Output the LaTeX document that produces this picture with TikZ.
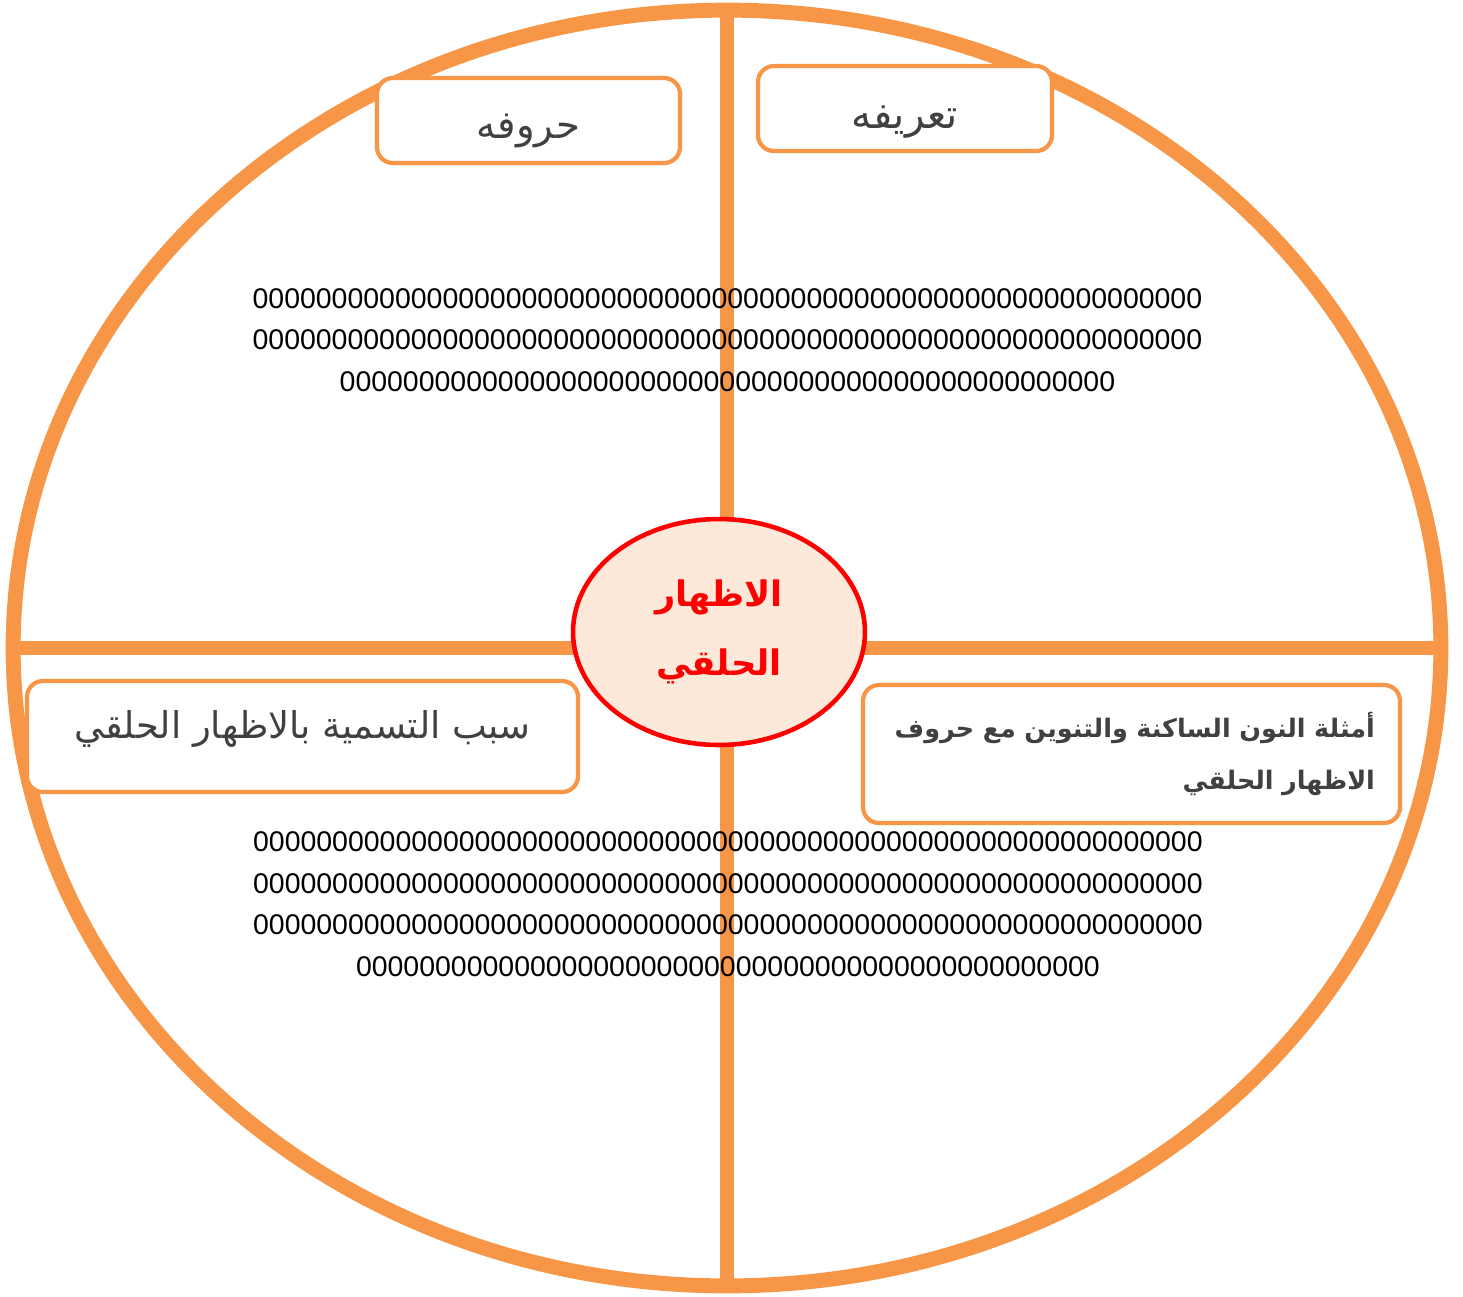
\documentclass[tikz,border=0pt]{standalone}
\usepackage{fontspec}
\setmainfont{Liberation Sans}
\newfontfamily\arabicfont[Script=Arabic]{DejaVu Sans}
\TeXXeTstate=1
\usetikzlibrary{shapes.geometric}
\definecolor{orangeline}{HTML}{F79646}
\definecolor{peach}{HTML}{FCE9DA}
\definecolor{textgray}{HTML}{404040}
\newcommand{\zerorow}[1]{\foreach \n in {1,...,#1}{0}}
\begin{document}
\begin{tikzpicture}[x=0.02cm,y=-0.02cm,line join=round,
	labelbox/.style={draw=orangeline,line width=2.4pt,rounded corners=9pt,fill=white,inner sep=0pt,text=textgray},
	zerotext/.style={font=\fontsize{16.2}{23.6}\selectfont,align=center,inner sep=0pt}]
	\useasboundingbox (0,0) rectangle (1463,1296);
	\coordinate (O) at (727,648);
	\coordinate (T) at (727,10);
	\coordinate (B) at (727,1286);
	\coordinate (L) at (13,648);
	\coordinate (R) at (1441,648);
	\draw[orangeline,line width=8.5pt] (O) ellipse [x radius=14.28cm,y radius=12.76cm];
	\draw[orangeline,line width=8.5pt] (T)--(B) (L)--(R);
	\node[ellipse,draw=red,line width=2.6pt,fill=peach,minimum width=5.84cm,minimum height=4.52cm,inner sep=0pt,align=center,text=red,font=\arabicfont\bfseries\fontsize{20}{39}\selectfont] (core) at (719,632) {\beginR الاظهار\endR\\\beginR الحلقي\endR};
	\node[labelbox,minimum width=6.06cm,minimum height=1.7cm,text height=0.82cm,text depth=0.1cm,font=\arabicfont\fontsize{22}{26}\selectfont] (huroof) at (528.5,120.5) {\beginR حروفه\endR};
	\node[labelbox,minimum width=5.88cm,minimum height=1.7cm,text height=0.9cm,text depth=0.1cm,font=\arabicfont\fontsize{23}{27}\selectfont] (tarif) at (905,108.5) {\beginR تعريفه\endR};
	\node[labelbox,minimum width=11.02cm,minimum height=2.22cm,text height=0.5cm,text depth=0.44cm,font=\arabicfont\fontsize{21}{25}\selectfont] (sabab) at (302.5,736.5) {\beginR سبب التسمية بالاظهار الحلقي\endR};
	\node[labelbox,minimum width=10.74cm,minimum height=2.76cm,inner xsep=0.5cm,text width=9.74cm,align=right,font=\arabicfont\bfseries\fontsize{14.5}{29.6}\selectfont] (amthila) at (1131.5,754) {\beginR أمثلة النون الساكنة والتنوين مع حروف\endR\\\beginR الاظهار الحلقي\endR};
	\node[zerotext] (topzeros) at (727.5,340) {\zerorow{60}\\\zerorow{60}\\\zerorow{49}};
	\node[zerotext] (botzeros) at (728,904) {\zerorow{60}\\\zerorow{60}\\\zerorow{60}\\\zerorow{47}};
\end{tikzpicture}
\end{document}
